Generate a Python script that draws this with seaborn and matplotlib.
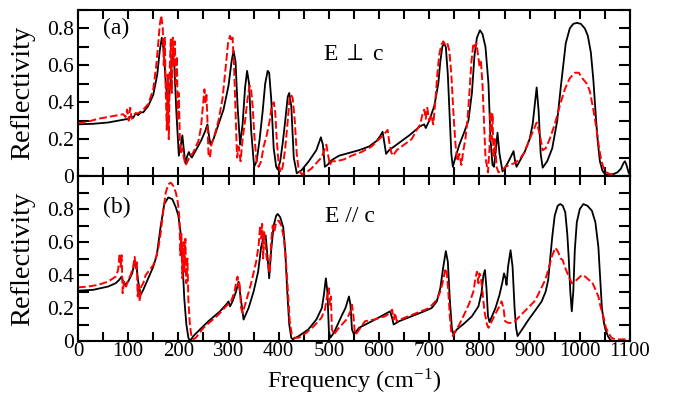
import numpy as np
import pandas as pd
import matplotlib
matplotlib.use("Agg")
import matplotlib.pyplot as plt
from matplotlib.ticker import MultipleLocator, FuncFormatter
import seaborn as sns

# ---------------- data ----------------
# panel (a): E perp c, calculated (black solid)
a_calc_x = [0, 30, 60, 90, 100, 105, 110, 115, 120, 125, 130, 140, 150, 158, 163, 167, 171, 175, 180, 184,
            188, 192, 196, 201, 205, 208, 211, 214, 218, 221, 224, 227, 235, 245, 253, 258, 261, 264, 270, 280,
            290, 300, 306, 310, 314, 318, 323, 328, 333, 337, 341, 345, 351, 356, 362, 368, 373, 378, 381, 385,
            390, 395, 398, 403, 408, 413, 418, 421, 425, 430, 436, 445, 460, 475, 484, 488, 492, 497, 505, 520,
            540, 560, 580, 595, 603, 607, 611, 614, 620, 635, 660, 682, 690, 693, 700, 710, 718, 722, 726, 729,
            733, 737, 741, 744, 747, 752, 760, 770, 778, 785, 790, 795, 801, 806, 812, 818, 822, 826, 829, 833,
            836, 840, 846, 852, 860, 868, 871, 874, 880, 890, 900, 906, 910, 914, 918, 922, 926, 935, 945, 955,
            962, 967, 972, 980, 987, 994, 1002, 1010, 1016, 1022, 1027, 1032, 1036, 1040, 1045, 1050, 1056, 1065,
            1075, 1082, 1087, 1090, 1093, 1097, 1100]
a_calc_y = [0.28, 0.283, 0.29, 0.305, 0.31, 0.325, 0.315, 0.34, 0.33, 0.345, 0.345, 0.38, 0.44, 0.55, 0.68, 0.75, 0.68, 0.5, 0.38, 0.5,
            0.66, 0.6, 0.35, 0.11, 0.17, 0.22, 0.14, 0.07, 0.11, 0.13, 0.11, 0.10, 0.14, 0.19, 0.24, 0.28, 0.22, 0.17, 0.2, 0.28,
            0.36, 0.49, 0.62, 0.68, 0.62, 0.38, 0.17, 0.28, 0.48, 0.57, 0.5, 0.25, 0.05, 0.08, 0.2, 0.35, 0.5, 0.57, 0.56, 0.42,
            0.15, 0.05, 0.035, 0.08, 0.18, 0.3, 0.43, 0.45, 0.38, 0.1, 0.015, 0.03, 0.08, 0.14, 0.21, 0.17, 0.05, 0.06, 0.085, 0.11,
            0.125, 0.14, 0.16, 0.19, 0.22, 0.24, 0.17, 0.12, 0.14, 0.17, 0.22, 0.27, 0.28, 0.26, 0.3, 0.38, 0.5, 0.62, 0.7, 0.72,
            0.7, 0.55, 0.3, 0.12, 0.05, 0.1, 0.17, 0.24, 0.3, 0.45, 0.65, 0.75, 0.79, 0.77, 0.7, 0.5, 0.2, 0.06, 0.05, 0.15,
            0.235, 0.12, 0.025, 0.05, 0.09, 0.135, 0.08, 0.05, 0.08, 0.13, 0.2, 0.28, 0.38, 0.48, 0.35, 0.12, 0.045, 0.08, 0.15, 0.3,
            0.48, 0.6, 0.72, 0.8, 0.825, 0.83, 0.825, 0.8, 0.76, 0.67, 0.52, 0.32, 0.18, 0.08, 0.03, 0.01, 0.005, 0.008,
            0.02, 0.04, 0.07, 0.08, 0.06, 0.02, 0.005]

# panel (a): experiment (red dashed)
a_exp_x = [0, 20, 40, 60, 80, 90, 95, 98, 101, 104, 107, 110, 115, 120, 125, 130, 140, 150, 156, 160,
           163, 166, 169, 171, 173, 175, 177, 179, 181, 183, 185, 187, 189, 191, 193, 195, 197, 199, 201, 203,
           205, 208, 211, 214, 217, 220, 225, 230, 235, 240, 245, 249, 252, 254, 256, 258, 260, 263, 266, 272,
           280, 288, 294, 299, 303, 306, 308, 311, 314, 317, 320, 324, 328, 333, 338, 342, 345, 348, 352, 356,
           360, 365, 370, 376, 382, 386, 390, 393, 396, 400, 404, 408, 413, 418, 422, 425, 428, 432, 436, 440,
           446, 455, 465, 475, 485, 491, 495, 498, 502, 506, 515, 530, 545, 565, 585, 600, 608, 614, 617, 620,
           624, 628, 635, 650, 665, 675, 682, 686, 690, 693, 696, 700, 704, 708, 712, 716, 720, 724, 728, 732,
           736, 740, 744, 748, 752, 756, 760, 764, 768, 772, 776, 780, 784, 788, 791, 794, 797, 800, 803, 806,
           809, 812, 815, 817, 820, 822, 824, 826, 828, 831, 834, 838, 845, 852, 860, 870, 880, 890, 900, 908,
           914, 918, 922, 926, 932, 940, 950, 960, 970, 980, 990, 998, 1005, 1014, 1020, 1027, 1033, 1038, 1043, 1048,
           1053, 1060, 1068]
a_exp_y = [0.285, 0.295, 0.31, 0.32, 0.33, 0.335, 0.32, 0.36, 0.30, 0.37, 0.31, 0.33, 0.34, 0.34, 0.35, 0.36, 0.39, 0.47, 0.6, 0.72,
           0.82, 0.87, 0.8, 0.6, 0.75, 0.45, 0.25, 0.55, 0.2, 0.6, 0.74, 0.45, 0.75, 0.6, 0.73, 0.5, 0.65, 0.3, 0.45, 0.2,
           0.12, 0.15, 0.1, 0.06, 0.07, 0.09, 0.11, 0.13, 0.16, 0.19, 0.26, 0.38, 0.47, 0.4, 0.44, 0.3, 0.12, 0.1, 0.17, 0.22,
           0.3, 0.42, 0.58, 0.72, 0.76, 0.73, 0.75, 0.6, 0.35, 0.1, 0.16, 0.08, 0.2, 0.3, 0.42, 0.49, 0.47, 0.38, 0.2, 0.08,
           0.05, 0.08, 0.16, 0.22, 0.3, 0.38, 0.40, 0.35, 0.2, 0.06, 0.02, 0.05, 0.15, 0.3, 0.43, 0.44, 0.42, 0.3, 0.12, 0.03,
           0.01, 0.02, 0.04, 0.07, 0.1, 0.14, 0.17, 0.12, 0.06, 0.08, 0.08, 0.09, 0.11, 0.13, 0.16, 0.2, 0.22, 0.24, 0.25, 0.19,
           0.13, 0.11, 0.14, 0.17, 0.2, 0.25, 0.28, 0.33, 0.36, 0.31, 0.37, 0.30, 0.33, 0.28, 0.4, 0.55, 0.66, 0.71, 0.73, 0.71,
           0.72, 0.68, 0.55, 0.35, 0.18, 0.08, 0.12, 0.06, 0.14, 0.2, 0.3, 0.45, 0.62, 0.72, 0.7, 0.72, 0.66, 0.6, 0.62, 0.5,
           0.3, 0.1, 0.05, 0.02, 0.15, 0.35, 0.2, 0.34, 0.1, 0.2, 0.05, 0.02, 0.03, 0.05, 0.06, 0.07, 0.09, 0.13, 0.2, 0.25,
           0.29, 0.25, 0.2, 0.14, 0.15, 0.2, 0.28, 0.38, 0.47, 0.53, 0.56, 0.56, 0.53, 0.5, 0.46, 0.36, 0.26, 0.16, 0.08, 0.04,
           0.02, 0.01, 0.01]

# panel (b): E // c, calculated (black solid)
b_calc_x = [0, 30, 60, 75, 82, 87, 90, 93, 100, 108, 113, 116, 120, 125, 130, 140, 150, 157, 165, 172,
            180, 188, 195, 200, 204, 208, 212, 216, 220, 223, 230, 243, 260, 283, 295, 300, 303, 308, 315, 320,
            324, 330, 340, 350, 359, 365, 370, 374, 378, 381, 385, 390, 395, 398, 403, 409, 413, 417, 421, 425,
            428, 440, 459, 475, 486, 490, 494, 497, 500, 503, 510, 525, 533, 540, 543, 546, 550, 560, 592, 610,
            622, 626, 629, 640, 665, 690, 705, 715, 722, 728, 733, 737, 741, 745, 748, 755, 771, 785, 798, 804,
            808, 811, 814, 817, 820, 825, 832, 840, 846, 849, 852, 854, 857, 862, 866, 870, 873, 876, 885, 898,
            910, 924, 932, 937, 941, 945, 950, 956, 961, 966, 971, 975, 978, 981, 984, 987, 990, 994, 1000, 1007,
            1015, 1024, 1031, 1037, 1041, 1044, 1048, 1051, 1056, 1061, 1070, 1100]
b_calc_y = [0.305, 0.31, 0.33, 0.35, 0.37, 0.39, 0.36, 0.34, 0.36, 0.41, 0.48, 0.47, 0.36, 0.28, 0.31, 0.38, 0.45, 0.52, 0.7, 0.83,
            0.87, 0.86, 0.81, 0.76, 0.67, 0.49, 0.25, 0.1, 0.02, 0.0, 0.03, 0.07, 0.12, 0.18, 0.22, 0.24, 0.21, 0.24, 0.3, 0.36,
            0.27, 0.13, 0.2, 0.3, 0.42, 0.57, 0.63, 0.64, 0.5, 0.38, 0.55, 0.7, 0.76, 0.77, 0.75, 0.69, 0.55, 0.3, 0.1, 0.02,
            0.01, 0.03, 0.07, 0.13, 0.2, 0.28, 0.38, 0.3, 0.06, 0.02, 0.05, 0.15, 0.2, 0.27, 0.22, 0.07, 0.04, 0.08, 0.13, 0.16,
            0.18, 0.14, 0.1, 0.12, 0.15, 0.18, 0.2, 0.24, 0.32, 0.45, 0.545, 0.48, 0.25, 0.08, 0.04, 0.07, 0.11, 0.15, 0.21, 0.29,
            0.4, 0.43, 0.32, 0.15, 0.115, 0.15, 0.2, 0.28, 0.36, 0.41, 0.38, 0.34, 0.45, 0.55, 0.45, 0.2, 0.08, 0.03, 0.07, 0.13,
            0.18, 0.24, 0.3, 0.37, 0.5, 0.63, 0.76, 0.82, 0.83, 0.82, 0.78, 0.65, 0.5, 0.3, 0.18, 0.3, 0.55, 0.72, 0.8, 0.83,
            0.82, 0.79, 0.72, 0.57, 0.36, 0.2, 0.11, 0.07, 0.03, 0.005, 0.0, 0.0]

# panel (b): experiment (red dashed)
b_exp_x = [0, 20, 40, 60, 75, 80, 83, 85, 87, 89, 92, 96, 100, 105, 110, 113, 115, 117, 119, 121,
           123, 126, 130, 135, 140, 145, 150, 155, 160, 165, 170, 175, 180, 185, 190, 195, 199, 202, 204, 206,
           208, 210, 212, 214, 216, 218, 220, 223, 226, 230, 235, 240, 250, 265, 280, 295, 305, 312, 316, 318,
           320, 322, 325, 328, 335, 345, 355, 360, 363, 365, 367, 369, 371, 373, 376, 379, 382, 385, 388, 391,
           395, 400, 405, 410, 414, 418, 422, 426, 430, 440, 455, 470, 485, 492, 497, 500, 502, 504, 506, 510,
           520, 535, 543, 546, 549, 552, 556, 572, 590, 612, 622, 626, 629, 632, 635, 650, 675, 700, 715, 722,
           728, 732, 735, 738, 741, 744, 747, 752, 760, 771, 780, 788, 792, 795, 798, 800, 803, 806, 810, 815,
           818, 823, 831, 838, 844, 848, 851, 857, 864, 871, 877, 890, 900, 911, 920, 931, 938, 944, 948, 951,
           955, 958, 962, 966, 970, 974, 978, 984, 990, 997, 1004, 1011, 1018, 1024, 1030, 1037, 1042, 1047, 1052, 1057,
           1063, 1071, 1085, 1100]
b_exp_y = [0.325, 0.33, 0.34, 0.36, 0.39, 0.43, 0.53, 0.45, 0.52, 0.29, 0.36, 0.33, 0.37, 0.4, 0.45, 0.51, 0.44, 0.49, 0.27, 0.34,
           0.24, 0.33, 0.35, 0.4, 0.42, 0.44, 0.46, 0.5, 0.56, 0.66, 0.79, 0.9, 0.95, 0.96, 0.94, 0.9, 0.84, 0.75, 0.52, 0.65,
           0.38, 0.6, 0.42, 0.62, 0.35, 0.5, 0.25, 0.1, 0.03, 0.01, 0.02, 0.04, 0.08, 0.12, 0.16, 0.21, 0.24, 0.3, 0.37, 0.39,
           0.33, 0.36, 0.2, 0.17, 0.24, 0.35, 0.48, 0.58, 0.7, 0.62, 0.71, 0.5, 0.66, 0.6, 0.5, 0.46, 0.41, 0.6, 0.7, 0.66,
           0.72, 0.73, 0.7, 0.63, 0.5, 0.32, 0.12, 0.04, 0.02, 0.02, 0.05, 0.09, 0.14, 0.19, 0.28, 0.32, 0.22, 0.27, 0.07, 0.04,
           0.08, 0.13, 0.18, 0.22, 0.15, 0.04, 0.05, 0.12, 0.13, 0.15, 0.17, 0.19, 0.13, 0.17, 0.12, 0.14, 0.17, 0.2, 0.25, 0.3,
           0.37, 0.44, 0.41, 0.3, 0.15, 0.05, 0.03, 0.06, 0.1, 0.17, 0.23, 0.3, 0.38, 0.42, 0.35, 0.41, 0.38, 0.3, 0.18, 0.1,
           0.08, 0.11, 0.16, 0.2, 0.24, 0.2, 0.12, 0.11, 0.11, 0.12, 0.14, 0.18, 0.21, 0.245, 0.3, 0.37, 0.44, 0.51, 0.54, 0.565,
           0.55, 0.53, 0.5, 0.49, 0.45, 0.42, 0.39, 0.35, 0.36, 0.38, 0.40, 0.39, 0.37, 0.36, 0.32, 0.27, 0.2, 0.15, 0.08, 0.05,
           0.02, 0.01, 0.01, 0.01]

x_ticks = [0, 100, 200, 300, 400, 500, 600, 700, 800, 900, 1000, 1100]
y_ticks = [0, 0.2, 0.4, 0.6, 0.8]
panel_labels = ["(a)", "(b)"]
pol_labels = ["E $\\perp$ c", "E // c"]

# ---------------- style ----------------
sns.set_style("ticks")
plt.rcParams["font.family"] = ["Liberation Serif", "DejaVu Serif"]
plt.rcParams["mathtext.fontset"] = "stix"
for key in ["text.color", "axes.labelcolor", "xtick.color", "ytick.color", "axes.edgecolor"]:
    plt.rcParams[key] = "black"

fig = plt.figure(figsize=(6.78, 3.95), dpi=100)
ax1 = fig.add_axes([0.115, 0.5544, 0.8142, 0.4203])
ax2 = fig.add_axes([0.115, 0.1367, 0.8142, 0.4177])

red_dash = (0, (4, 1.6))

for ax, cx, cy, ex, ey in [(ax1, a_calc_x, a_calc_y, a_exp_x, a_exp_y),
                           (ax2, b_calc_x, b_calc_y, b_exp_x, b_exp_y)]:
    sns.lineplot(x=cx, y=cy, ax=ax, color="black", linewidth=1.3,
                 sort=False, estimator=None)
    sns.lineplot(x=ex, y=ey, ax=ax, color="#ff0000", linewidth=1.4,
                 linestyle=red_dash, sort=False, estimator=None)
    ax.set_xlim(0, 1100)
    ax.set_xticks(x_ticks)
    ax.xaxis.set_minor_locator(MultipleLocator(50))
    ax.set_yticks(y_ticks)
    ax.yaxis.set_minor_locator(MultipleLocator(0.1))
    ax.yaxis.set_major_formatter(FuncFormatter(lambda v, p: "%g" % v))
    ax.tick_params(which="both", direction="in", top=True, right=True, width=1.5,
                   labelsize=15.5, colors="black")
    ax.tick_params(axis="x", which="both", length=6.5, pad=0.5, labelsize=15)
    ax.tick_params(axis="y", which="both", length=8, pad=3)
    for s in ax.spines.values():
        s.set_linewidth(1.5)
        s.set_color("black")
    ax.set_ylabel("Reflectivity", fontsize=20.5)
    ax.yaxis.set_label_coords(-0.078, 0.5)
    ax.set_xlabel("")

ax1.set_ylim(0, 0.9)
ax2.set_ylim(0, 1.0)
ax1.tick_params(labelbottom=False)

ax1.text(50, 0.8, panel_labels[0], fontsize=17, va="center", ha="left")
ax2.text(50, 0.81, panel_labels[1], fontsize=17, va="center", ha="left")
ax1.text(488, 0.657, pol_labels[0], fontsize=17, va="center", ha="left")
ax2.text(492, 0.753, pol_labels[1], fontsize=17, va="center", ha="left")

ax2.set_xlabel("Frequency (cm$^{\\mathregular{-1}}$)", fontsize=17.5)
ax2.xaxis.set_label_coords(0.5, -0.157)

fig.savefig("out.png", dpi=100)
